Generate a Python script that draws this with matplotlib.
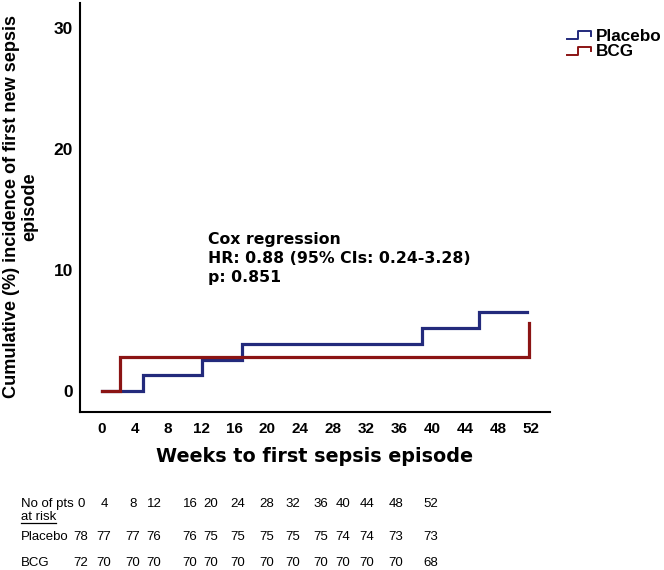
import matplotlib
matplotlib.use('Agg')
import matplotlib.pyplot as plt
from matplotlib.lines import Line2D
from matplotlib.legend_handler import HandlerBase

plt.rcParams['font.family'] = ['Liberation Sans', 'DejaVu Sans']

# ---- data ----
week_ticks = [0, 4, 8, 12, 16, 20, 24, 28, 32, 36, 40, 44, 48, 52]
y_ticks = [0, 10, 20, 30]
placebo_t = [0, 5.0, 12.1, 17.0, 38.8, 45.7, 51.5]
placebo_y = [0, 1.3, 2.6, 3.9, 5.2, 6.5, 6.5]
bcg_t = [0, 2.2, 51.8]
bcg_y = [0, 2.8, 5.6]
risk_times = ['0', '4', '8', '12', '16', '20', '24', '28', '32', '36', '40', '44', '48', '52']
risk_placebo = [78, 77, 77, 76, 76, 75, 75, 75, 75, 75, 74, 74, 73, 73]
risk_bcg = [72, 70, 70, 70, 70, 70, 70, 70, 70, 70, 70, 70, 70, 68]
series_names = ['Placebo', 'BCG']
colors = ['#232a7c', '#8b1414']

# ---- layout (pixels) ----
W, H = 664, 570
col_x_px = [81, 104, 133, 154, 190, 211, 238, 267, 293, 321, 343, 367, 396, 431]


def fx(px):
    return px / W


def fy(py):
    return 1 - py / H


fig = plt.figure(figsize=(W / 100, H / 100), dpi=100)
ax = fig.add_axes([fx(80), fy(412), (550 - 80) / W, (412 - 3) / H])

l1, = ax.step(placebo_t, placebo_y, where='post', color=colors[0], lw=2.3,
              label=series_names[0], solid_joinstyle='miter')
l2, = ax.step(bcg_t, bcg_y, where='post', color=colors[1], lw=2.3,
              label=series_names[1], solid_joinstyle='miter')

ax.set_xlim(-(102 - 80) / 8.25, (550 - 102) / 8.25)
ax.set_ylim(-(412 - 391) / 12.1, (391 - 3) / 12.1)
ax.set_xticks(week_ticks)
ax.set_yticks(y_ticks)
ax.tick_params(axis='both', length=0)
ax.tick_params(axis='x', pad=7, labelsize=11)
ax.tick_params(axis='y', pad=5, labelsize=12.5)
for lab in ax.get_xticklabels() + ax.get_yticklabels():
    lab.set_fontweight('bold')
for s in ['top', 'right']:
    ax.spines[s].set_visible(False)
for s in ['left', 'bottom']:
    ax.spines[s].set_linewidth(1.5)

# axis labels
fig.text(fx(21), fy(207), 'Cumulative (%) incidence of first new sepsis\nepisode',
         rotation=90, ha='center', va='center', multialignment='center',
         fontsize=13.1, fontweight='bold', linespacing=1.1)
fig.text(fx(315), fy(457), 'Weeks to first sepsis episode', ha='center', va='center',
         fontsize=13.8, fontweight='bold', family=['DejaVu Sans'])

# annotation
fig.text(fx(208), fy(258.5), 'Cox regression\nHR: 0.88 (95% CIs: 0.24-3.28)\np: 0.851',
         ha='left', va='center', fontsize=11.3, fontweight='bold', linespacing=1.3,
         family=['DejaVu Sans'])


# legend with step glyphs
class StepHandler(HandlerBase):
    def create_artists(self, legend, orig_handle, xdescent, ydescent, width,
                       height, fontsize, trans):
        x0 = -xdescent
        w, h = width, height
        xs = [x0, x0 + 0.45 * w, x0 + 0.45 * w, x0 + w, x0 + w]
        ys = [0.15 * h, 0.15 * h, 0.8 * h, 0.8 * h, 0.45 * h]
        ln = Line2D(xs, ys, color=orig_handle.get_color(), lw=1.4, transform=trans)
        return [ln]


leg = fig.legend([l1, l2], series_names, loc='upper left',
                 bbox_to_anchor=(fx(567), fy(29)), frameon=False,
                 handler_map={Line2D: StepHandler()}, handlelength=1.4,
                 handletextpad=0.3, labelspacing=0.02, borderpad=0,
                 borderaxespad=0, prop={'size': 12.3, 'weight': 'bold'})

# at-risk table
tfs = 9.5
fig.text(fx(21), fy(504), 'No of pts', ha='left', va='center', fontsize=tfs)
ar = fig.text(fx(21), fy(517), 'at risk', ha='left', va='center', fontsize=tfs)
fig.text(fx(21), fy(537), series_names[0], ha='left', va='center', fontsize=tfs)
fig.text(fx(21), fy(563), series_names[1], ha='left', va='center', fontsize=tfs)
for i, t in enumerate(risk_times):
    fig.text(fx(col_x_px[i]), fy(504), t, ha='center', va='center', fontsize=tfs)
    fig.text(fx(col_x_px[i]), fy(537), str(risk_placebo[i]), ha='center', va='center', fontsize=tfs)
    fig.text(fx(col_x_px[i]), fy(563), str(risk_bcg[i]), ha='center', va='center', fontsize=tfs)

# underline "at risk"
renderer = fig.canvas.get_renderer()
bb = ar.get_window_extent(renderer=renderer)
fig.add_artist(Line2D([bb.x0 / W, bb.x1 / W], [(bb.y0 + 0.5) / H, (bb.y0 + 0.5) / H],
                      color='black', lw=0.9, transform=fig.transFigure))

fig.savefig('out.png', dpi=100)
